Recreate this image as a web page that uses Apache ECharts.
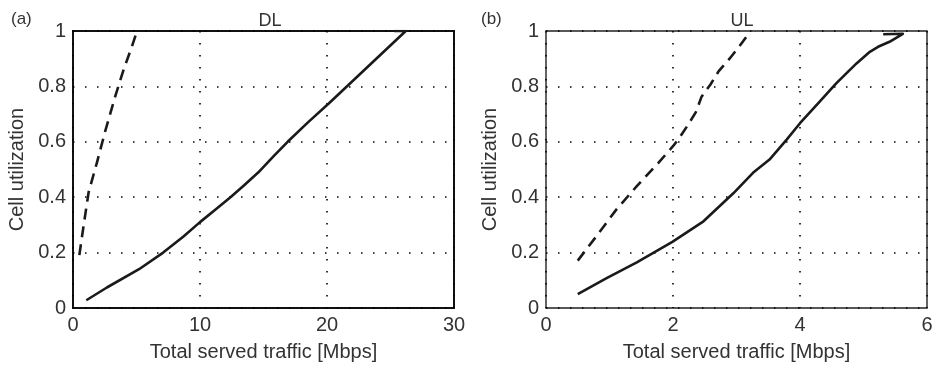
<!DOCTYPE html>
<html>
<head>
<meta charset="utf-8">
<script src="https://cdn.jsdelivr.net/npm/echarts@6/dist/echarts.min.js"></script>
<style>
html,body{margin:0;padding:0;background:#fff;}
#chart{width:939px;height:367px;}
</style>
</head>
<body>
<div id="chart"></div>
<script>
// Panel (a) DL
var dlSolidX = [1.05, 2.67, 5.2, 7.1, 8.7, 10.0, 11.2, 12.4, 13.5, 14.6, 15.8, 16.9, 18.5, 20.2, 26.2, 25.3];
var dlSolidY = [0.028, 0.074, 0.140, 0.200, 0.258, 0.310, 0.355, 0.400, 0.444, 0.490, 0.548, 0.600, 0.670, 0.741, 1.0, 1.0];
var dlDashX = [0.50, 0.84, 1.23, 1.89, 2.54, 3.33, 3.98, 4.64, 5.03];
var dlDashY = [0.191, 0.299, 0.418, 0.526, 0.639, 0.765, 0.860, 0.944, 0.998];
// Panel (b) UL
var ulSolidX = [0.50, 0.955, 1.43, 1.99, 2.48, 2.95, 3.26, 3.52, 3.79, 4.0, 4.31, 4.57, 4.89, 5.10, 5.23, 5.41, 5.62, 5.31];
var ulSolidY = [0.050, 0.108, 0.165, 0.239, 0.313, 0.414, 0.488, 0.536, 0.608, 0.667, 0.745, 0.811, 0.883, 0.925, 0.943, 0.961, 0.990, 0.988];
var ulDashX = [0.50, 0.80, 1.11, 1.43, 1.77, 2.0, 2.10, 2.23, 2.36, 2.45, 2.59, 2.72, 2.89, 3.04, 3.18];
var ulDashY = [0.171, 0.261, 0.356, 0.440, 0.524, 0.584, 0.614, 0.659, 0.707, 0.763, 0.807, 0.855, 0.900, 0.943, 0.987];
// Axes
var yTicks = [0, 0.2, 0.4, 0.6, 0.8, 1];
var dlXTicks = [0, 10, 20, 30];
var ulXTicks = [0, 2, 4, 6];
var panelTitles = ['DL', 'UL'];
var panelTags = ['(a)', '(b)'];
var xName = 'Total served traffic [Mbps]';
var yName = 'Cell utilization';

function pairs(xs, ys){ return xs.map(function(x,i){ return [x, ys[i]]; }); }

var FONT = '"Liberation Sans", Arial, sans-serif';
var TXT = '#333';
var LINE = '#1a1a1a';
var FS = 20;

function xAxis(idx, ticks){
  return {
    type:'value', gridIndex: idx,
    min: ticks[0], max: ticks[ticks.length-1], interval: ticks[1]-ticks[0],
    name: xName, nameLocation:'middle', nameGap: 34,
    nameTextStyle:{color:TXT, fontSize:FS, fontFamily:FONT},
    axisLine:{show:false}, axisTick:{show:false},
    axisLabel:{color:TXT, fontSize:FS, fontFamily:FONT, margin:7},
    splitLine:{show:true, lineStyle:{color:'#000', width:1.6, type:[1.5,10.5]}}
  };
}
function yAxis(idx){
  return {
    type:'value', gridIndex: idx,
    min: yTicks[0], max: yTicks[yTicks.length-1], interval: yTicks[1]-yTicks[0],
    name: yName, nameLocation:'middle', nameGap: 46,
    nameTextStyle:{color:TXT, fontSize:FS, fontFamily:FONT},
    axisLine:{show:false}, axisTick:{show:false},
    axisLabel:{color:TXT, fontSize:FS, fontFamily:FONT, margin:7},
    splitLine:{show:true, lineStyle:{color:'#000', width:1.6, type:[1.5,10.5]}}
  };
}
function line(idx, data, dashed){
  return {
    type:'line', xAxisIndex: idx, yAxisIndex: idx, data: data,
    showSymbol:false, symbol:'none', smooth:false, silent:true,
    lineStyle:{color:LINE, width:2.6, type: dashed ? [11,7] : 'solid', join:'round', cap:'butt'},
    z: 5
  };
}

var chart = echarts.init(document.getElementById('chart'), null, {renderer:'canvas'});
chart.setOption({
  backgroundColor:'#fff',
  animation:false,
  title:[
    {text: panelTitles[0], left: 265, top: 7, textAlign:'center', textStyle:{color:TXT, fontSize:18, fontWeight:'normal', fontFamily:FONT}},
    {text: panelTitles[1], left: 737, top: 7, textAlign:'center', textStyle:{color:TXT, fontSize:18, fontWeight:'normal', fontFamily:FONT}},
    {text: panelTags[0], left: 6, top: 6, textStyle:{color:TXT, fontSize:17, fontWeight:'normal', fontFamily:FONT}},
    {text: panelTags[1], left: 476, top: 6, textStyle:{color:TXT, fontSize:17, fontWeight:'normal', fontFamily:FONT}}
  ],
  grid:[
    {left:73, top:31, width:381, height:279, show:true, borderColor:'#111', borderWidth:2, backgroundColor:'transparent'},
    {left:546, top:31, width:381, height:278, show:true, borderColor:'#222', borderWidth:1.4, backgroundColor:'transparent'}
  ],
  xAxis:[xAxis(0, dlXTicks), xAxis(1, ulXTicks)],
  yAxis:[yAxis(0), yAxis(1)],
  series:[
    line(0, pairs(dlSolidX, dlSolidY), false),
    line(0, pairs(dlDashX, dlDashY), true),
    line(1, pairs(ulSolidX, ulSolidY), false),
    line(1, pairs(ulDashX, ulDashY), true)
  ]
});
</script>
</body>
</html>
